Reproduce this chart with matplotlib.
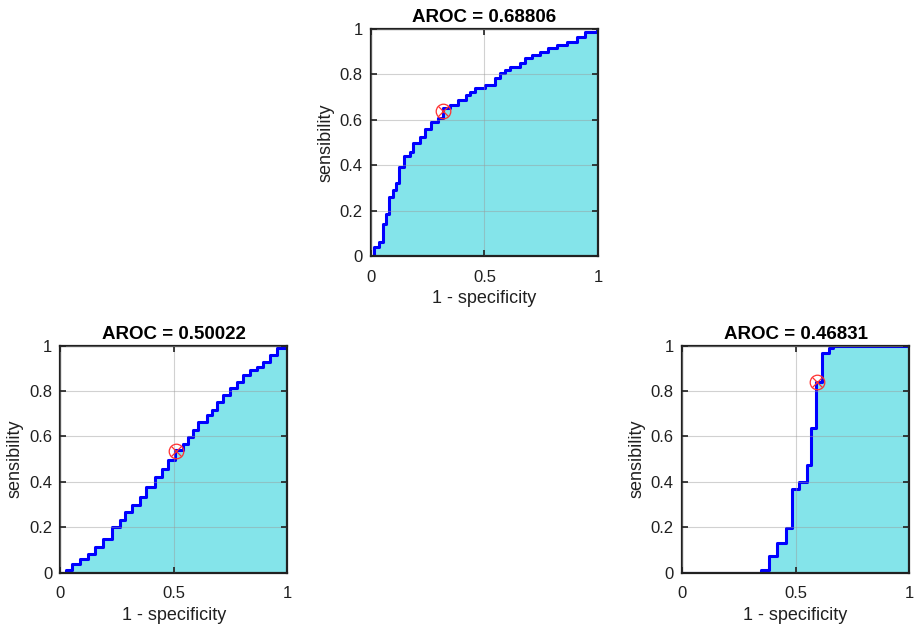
import matplotlib
matplotlib.use("Agg")
import matplotlib.pyplot as plt

plt.rcParams['font.family'] = ['Liberation Sans', 'DejaVu Sans']

# ROC curve 1 (top)
fpr_a = [0, 0.015, 0.037, 0.052, 0.066, 0.081, 0.096, 0.111, 0.125, 0.147, 0.17, 0.184,
         0.214, 0.236, 0.265, 0.295, 0.317, 0.347, 0.383, 0.42, 0.436, 0.457, 0.502,
         0.546, 0.568, 0.59, 0.612, 0.656, 0.678, 0.708, 0.744, 0.781, 0.818, 0.862,
         0.906, 0.943, 0.994, 1.0]
tpr_a = [0, 0.038, 0.06, 0.14, 0.186, 0.26, 0.29, 0.32, 0.39, 0.44, 0.46, 0.50,
         0.525, 0.56, 0.59, 0.61, 0.65, 0.665, 0.687, 0.71, 0.724, 0.739, 0.753,
         0.783, 0.805, 0.819, 0.834, 0.849, 0.871, 0.885, 0.9, 0.915, 0.93, 0.944,
         0.966, 0.988, 0.999, 1.0]
opt_a = (0.317, 0.641)
auc_a = 0.68806

# ROC curve 2 (bottom left)
fpr_b = [0, 0.026, 0.049, 0.085, 0.122, 0.151, 0.188, 0.225, 0.262, 0.284, 0.313, 0.35,
         0.379, 0.416, 0.446, 0.475, 0.504, 0.541, 0.563, 0.585, 0.607, 0.644, 0.666,
         0.688, 0.718, 0.747, 0.776, 0.806, 0.835, 0.865, 0.894, 0.924, 0.953, 1.0]
tpr_b = [0, 0.009, 0.038, 0.06, 0.082, 0.112, 0.149, 0.2, 0.23, 0.267, 0.296, 0.333,
         0.377, 0.421, 0.458, 0.495, 0.539, 0.568, 0.598, 0.627, 0.661, 0.694, 0.716,
         0.753, 0.782, 0.811, 0.841, 0.87, 0.892, 0.907, 0.929, 0.959, 0.988, 1.0]
opt_b = (0.508, 0.537)
auc_b = 0.50022

# ROC curve 3 (bottom right)
fpr_c = [0, 0.35, 0.385, 0.419, 0.456, 0.483, 0.516, 0.55, 0.567, 0.59, 0.615, 0.649, 0.664, 1.0]
tpr_c = [0, 0.01, 0.074, 0.128, 0.197, 0.368, 0.4, 0.474, 0.635, 0.841, 0.966, 0.988, 1.0, 1.0]
opt_c = (0.593, 0.839)
auc_c = 0.46831

fig = plt.figure(figsize=(9.15, 6.31), dpi=100)

positions = [
    [0.4055, 0.5943, 0.248, 0.3597],
    [0.0661, 0.0927, 0.248, 0.3597],
    [0.7454, 0.0927, 0.248, 0.3597],
]
curves = [(fpr_a, tpr_a, opt_a, auc_a), (fpr_b, tpr_b, opt_b, auc_b), (fpr_c, tpr_c, opt_c, auc_c)]

for pos, (fpr, tpr, opt, auc) in zip(positions, curves):
    ax = fig.add_axes(pos)
    ax.fill_between(fpr, tpr, step='post', color='#84E4EA', linewidth=0, zorder=1)
    ax.plot(fpr, tpr, drawstyle='steps-post', color='#0000FF', lw=2.2, zorder=2)
    ax.plot(opt[0], opt[1], 'o', mfc='none', mec='#FF3030', ms=10.5, mew=0.9, zorder=4)
    ax.plot(opt[0], opt[1], 'x', color='#FF3030', ms=7, mew=0.9, zorder=4)
    ax.set_xlim(0, 1)
    ax.set_ylim(0, 1)
    ax.set_xticks([0, 0.5, 1])
    ax.set_xticklabels(['0', '0.5', '1'])
    ax.set_yticks([0, 0.2, 0.4, 0.6, 0.8, 1])
    ax.set_yticklabels(['0', '0.2', '0.4', '0.6', '0.8', '1'])
    ax.set_axisbelow(False)
    ax.grid(True, color='#9a9a9a', lw=0.8, alpha=0.45, zorder=3)
    ax.tick_params(direction='in', length=4, width=1.2, labelsize=12, top=True, right=True,
                   color='#202020', labelcolor='#202020')
    ax.tick_params(axis='x', pad=10)
    ax.tick_params(axis='y', pad=6)
    for s in ax.spines.values():
        s.set_linewidth(1.6)
        s.set_color('#202020')
    ax.set_xlabel('1 - specificity', fontsize=13, color='#202020', labelpad=4)
    ax.set_ylabel('sensibility', fontsize=13, color='#202020', labelpad=4)
    ax.set_title('AROC = %.5f' % auc, fontsize=13.5, fontweight='bold', pad=5)

fig.savefig('out.png', dpi=100)
